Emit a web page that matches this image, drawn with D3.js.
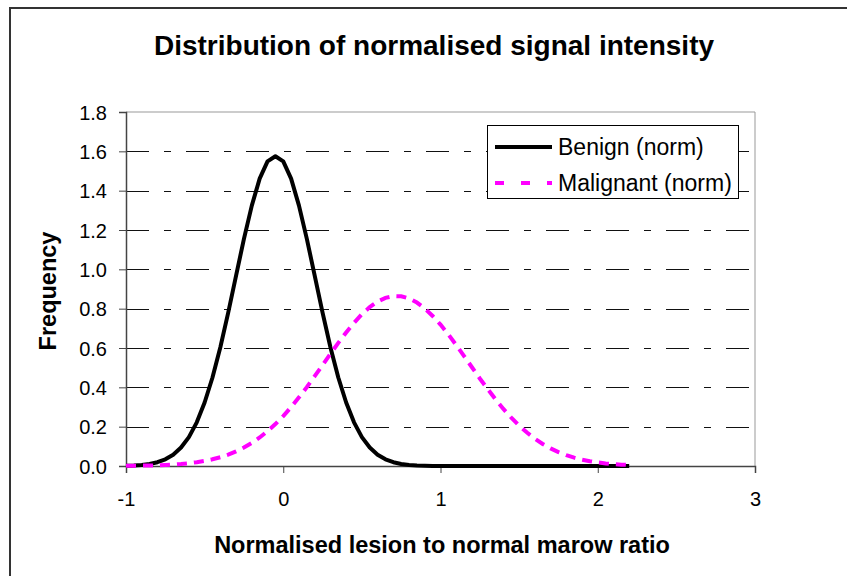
<!DOCTYPE html>
<html>
<head>
<meta charset="utf-8">
<script src="https://cdn.jsdelivr.net/npm/d3@7"></script>
<style>
  body { margin: 0; background: #fff; }
  svg { display: block; font-family: "Liberation Sans", Arial, sans-serif; }
</style>
</head>
<body>
<div id="chart"><svg></svg></div>
<script>
const width = 847;
const height = 576;

// x positions of the samples
const xValues = [
  -1.00, -0.95, -0.90, -0.85, -0.80, -0.75, -0.70, -0.65, -0.60, -0.55,
  -0.50, -0.45, -0.40, -0.35, -0.30, -0.25, -0.20, -0.15, -0.10, -0.05,
   0.00,  0.05,  0.10,  0.15,  0.20,  0.25,  0.30,  0.35,  0.40,  0.45,
   0.50,  0.55,  0.60,  0.65,  0.70,  0.75,  0.80,  0.85,  0.90,  0.95,
   1.00,  1.05,  1.10,  1.15,  1.20,  1.25,  1.30,  1.35,  1.40,  1.45,
   1.50,  1.55,  1.60,  1.65,  1.70,  1.75,  1.80,  1.85,  1.90,  1.95,
   2.00,  2.05,  2.10,  2.15,  2.20
];

const benign = [
  0.0013, 0.0028, 0.0055, 0.0104, 0.0192, 0.0339, 0.0575, 0.0938, 0.147, 0.222,
  0.323, 0.450, 0.604, 0.780, 0.968, 1.155, 1.324, 1.461, 1.549, 1.575,
  1.549, 1.461, 1.324, 1.155, 0.968, 0.780, 0.604, 0.450, 0.323, 0.222,
  0.147, 0.0938, 0.0575, 0.0339, 0.0192, 0.0104, 0.0055, 0.0028, 0.0013, 0.0006,
  0.0003, 0.0001, 0, 0, 0, 0, 0, 0, 0, 0,
  0, 0, 0, 0, 0, 0, 0, 0, 0, 0,
  0, 0, 0, 0, 0
];

const malignant = [
  0.0008, 0.0012, 0.0018, 0.0026, 0.0037, 0.0052, 0.0074, 0.0103, 0.0141, 0.0191,
  0.0257, 0.0341, 0.0447, 0.0578, 0.0741, 0.0936, 0.117, 0.145, 0.177, 0.213,
  0.254, 0.299, 0.349, 0.401, 0.457, 0.513, 0.570, 0.626, 0.679, 0.728,
  0.772, 0.808, 0.836, 0.855, 0.864, 0.863, 0.852, 0.831, 0.801, 0.763,
  0.719, 0.669, 0.615, 0.559, 0.502, 0.445, 0.391, 0.339, 0.290, 0.246,
  0.205, 0.170, 0.139, 0.112, 0.0894, 0.0705, 0.0550, 0.0423, 0.0322, 0.0242,
  0.0180, 0.0132, 0.0096, 0.0069, 0.0049
];

const seriesNames = ['Benign (norm)', 'Malignant (norm)'];
const xTicks = [-1, 0, 1, 2, 3];
const yTicks = [0, 0.2, 0.4, 0.6, 0.8, 1.0, 1.2, 1.4, 1.6, 1.8];

const svg = d3.select('#chart').select('svg')
    .attr('width', width)
    .attr('height', height)
    .attr('viewBox', `0 0 ${width} ${height}`);

// outer chart frame
svg.append('rect')
    .attr('x', 10).attr('y', 8)
    .attr('width', width + 20).attr('height', height + 20)
    .attr('fill', 'none')
    .attr('stroke', '#333')
    .attr('stroke-width', 2);

const plotL = 126, plotR = 755, plotT = 112, plotB = 466;

const x = d3.scaleLinear().domain([-1, 3]).range([plotL, plotR]);
const y = d3.scaleLinear().domain([0, 1.8]).range([plotB, plotT]);

// plot area border (top + right, light grey)
svg.append('path')
    .attr('d', `M${plotL},${plotT}H${plotR}V${plotB}`)
    .attr('fill', 'none')
    .attr('stroke', '#999')
    .attr('stroke-width', 1);

// gridlines, long-short dashes
svg.append('g')
  .selectAll('line')
  .data(yTicks.filter(d => d > 0 && d < 1.8))
  .join('line')
    .attr('x1', plotL).attr('x2', plotR)
    .attr('y1', d => Math.round(y(d)) + 0.5)
    .attr('y2', d => Math.round(y(d)) + 0.5)
    .attr('stroke', '#111')
    .attr('stroke-width', 1)
    .attr('stroke-dasharray', '23,15,7,15');

// axes
const xAxis = svg.append('g')
    .attr('transform', `translate(0,${plotB})`)
    .call(d3.axisBottom(x).tickValues(xTicks).tickSize(7).tickPadding(19).tickFormat(d => String(d)));

const yAxis = svg.append('g')
    .attr('transform', `translate(${plotL},0)`)
    .call(d3.axisLeft(y).tickValues(yTicks).tickSize(7).tickPadding(12).tickFormat(d3.format('.1f')));

[xAxis, yAxis].forEach(a => {
  a.select('.domain').attr('stroke', '#444').attr('stroke-width', 1.5);
  a.selectAll('.tick line').attr('stroke', '#444');
  a.selectAll('text')
    .attr('fill', '#000')
    .style('font-size', '20px')
    .style('font-family', '"Liberation Sans", Arial, sans-serif');
});
yAxis.selectAll('text').attr('dy', '0.36em');

// curves
const line = d3.line()
    .x(d => x(d[0]))
    .y(d => y(d[1]));

const benignPts = xValues.map((v, i) => [v, benign[i]]);
const malignantPts = xValues.map((v, i) => [v, malignant[i]]);

svg.append('path')
    .datum(benignPts)
    .attr('d', line)
    .attr('fill', 'none')
    .attr('stroke', '#000')
    .attr('stroke-width', 4)
    .attr('stroke-linejoin', 'round');

svg.append('path')
    .datum(malignantPts)
    .attr('d', line)
    .attr('fill', 'none')
    .attr('stroke', '#ff00ff')
    .attr('stroke-width', 4)
    .attr('stroke-dasharray', '10,7');

// title
svg.append('text')
    .attr('x', 434).attr('y', 55)
    .attr('text-anchor', 'middle')
    .style('font-weight', 'bold')
    .style('font-size', '28px')
    .text('Distribution of normalised signal intensity');

// axis titles
svg.append('text')
    .attr('x', 442).attr('y', 553)
    .attr('text-anchor', 'middle')
    .style('font-weight', 'bold')
    .style('font-size', '23.5px')
    .text('Normalised lesion to normal marow ratio');

svg.append('text')
    .attr('transform', 'translate(56,291) rotate(-90)')
    .attr('text-anchor', 'middle')
    .style('font-weight', 'bold')
    .style('font-size', '23.5px')
    .text('Frequency');

// legend
const legend = svg.append('g');
legend.append('rect')
    .attr('x', 487.5).attr('y', 125.5)
    .attr('width', 251).attr('height', 73)
    .attr('fill', '#fff')
    .attr('stroke', '#000')
    .attr('stroke-width', 1);

const legendItems = legend.selectAll('g.item')
  .data(seriesNames)
  .join('g')
    .attr('class', 'item')
    .attr('transform', (d, i) => `translate(495,${147 + i * 36})`);

legendItems.append('line')
    .attr('x1', 0).attr('x2', 57)
    .attr('stroke', (d, i) => i === 0 ? '#000' : '#ff00ff')
    .attr('stroke-width', 4)
    .attr('stroke-dasharray', (d, i) => i === 0 ? null : '9,17');

legendItems.append('text')
    .attr('x', 63)
    .attr('dy', '0.36em')
    .style('font-size', '23px')
    .text(d => d);
</script>
</body>
</html>
